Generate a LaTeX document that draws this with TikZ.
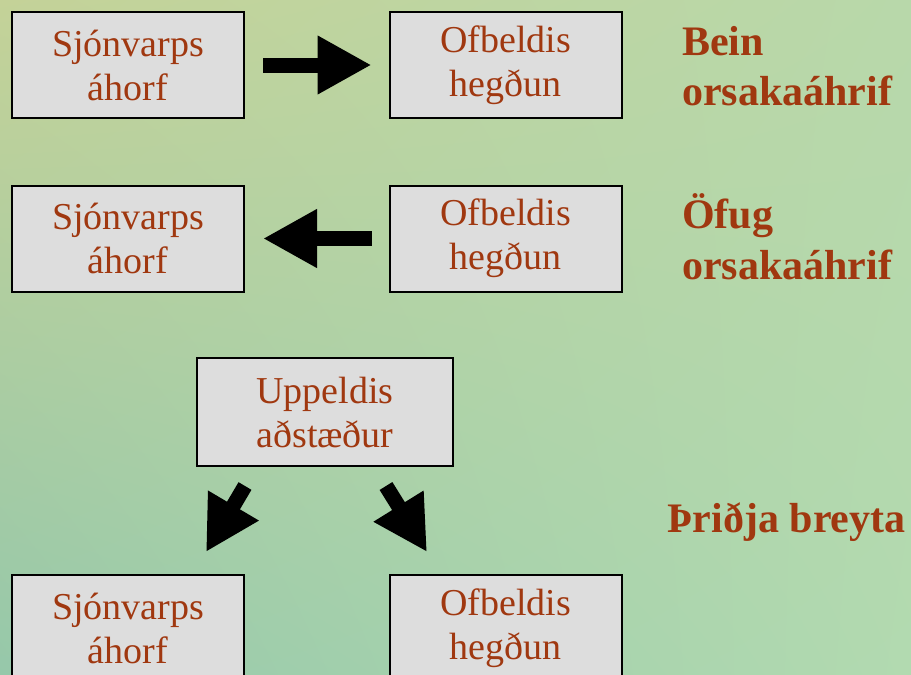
\documentclass[tikz,border=0pt]{standalone}
\usepackage{fontspec}
\setmainfont{Liberation Serif}
\usepackage{tikz}
\usetikzlibrary{arrows.meta}
\usetikzlibrary{shadings}
\definecolor{txtred}{RGB}{160,56,16}
\definecolor{boxgray}{RGB}{221,221,221}
\definecolor{bgul}{RGB}{196,210,152}
\definecolor{bgur}{RGB}{184,216,170}
\definecolor{bgll}{RGB}{150,200,170}
\definecolor{bglr}{RGB}{178,218,176}

\begin{document}
\begin{tikzpicture}[x=0.75pt,y=-0.75pt,
	box/.style={draw=black,line width=1.5pt,fill=boxgray,text=txtred,
		minimum width=174pt,minimum height=79.5pt,inner sep=0pt,align=center,
		font=\fontsize{28.5}{33}\selectfont},
	lbl/.style={text=txtred,inner sep=0pt,align=left,
		font=\bfseries\fontsize{31.5}{38}\selectfont},
	bigarrow/.style={line width=11.25pt,
		-{Triangle[length=40.5pt,width=41.25pt]}}]
		\useasboundingbox (0,0) rectangle (911,675);
		\clip (0,0) rectangle (911,675);
		\shade[upper left=bgul,upper right=bgur,lower left=bgll,lower right=bglr]
			(0,0) rectangle (911,675);
		% bein orsakaahrif
		\node[box] (sjon1) at (128,65) {Sjónvarps\\áhorf};
		\node[box] (ofb1) at (505.5,65) {Ofbeldis\\hegðun};
		\draw[bigarrow,shorten <=13.5pt,shorten >=12.75pt] (sjon1.east) -- (ofb1.west);
		\node[lbl,anchor=west] (bein) at (682,66) {Bein\\orsakaáhrif};
		% ofug orsakaahrif
		\node[box] (sjon2) at (128,238.5) {Sjónvarps\\áhorf};
		\node[box] (ofb2) at (505.5,238.5) {Ofbeldis\\hegðun};
		\draw[bigarrow,shorten <=12.75pt,shorten >=13.5pt] (ofb2.west) -- (sjon2.east);
		\node[lbl,anchor=west] (ofug) at (682,237) {Öfug\\orsakaáhrif};
		% thridja breyta
		\node[box,minimum width=192pt,minimum height=81pt] (upp) at (325,412) {Uppeldis\\aðstæður};
		\node[box] (sjon3) at (128,628) {Sjónvarps\\áhorf};
		\node[box] (ofb3) at (505.5,628) {Ofbeldis\\hegðun};
		\draw[bigarrow] ([shift={(-80,19)}]upp.south) -- ([shift={(78,-22)}]sjon3.north);
		\draw[bigarrow] ([shift={(61,19)}]upp.south) -- ([shift={(-78.5,-22)}]ofb3.north);
		\node[lbl,anchor=base west] (thr) at (667,532) {Þriðja breyta};
	\end{tikzpicture}
\end{document}
